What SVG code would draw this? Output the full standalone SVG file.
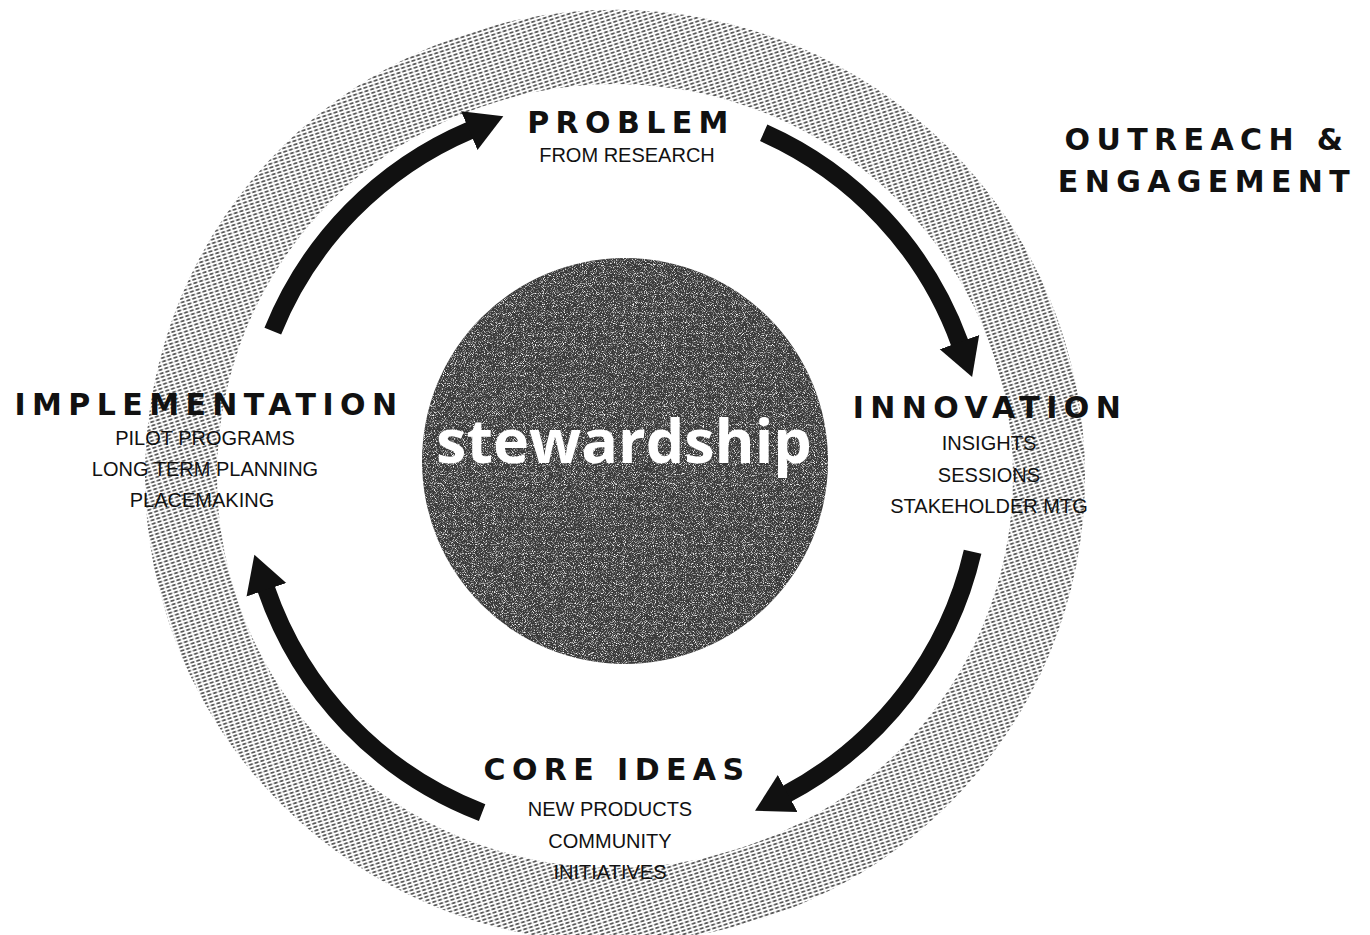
<svg xmlns="http://www.w3.org/2000/svg" width="1370" height="935" viewBox="0 0 1370 935">
  <defs>
    <style>
      .head { font-family: "DejaVu Sans", "Liberation Sans", sans-serif; font-weight: 700; font-size: 30px; letter-spacing: 6.4px; fill: #111; text-anchor: middle; }
      .sub { font-family: "Liberation Sans", Arial, sans-serif; font-size: 20px; fill: #111; text-anchor: middle; }
      .hub-label { font-family: "Open Sans", "Liberation Sans", sans-serif; font-weight: 700; font-size: 61px; fill: #fff; text-anchor: middle; }
      .flow { fill: none; stroke: #111; stroke-width: 18; stroke-linecap: butt; marker-end: url(#head); }
    </style>
    <!-- short dashes that give the outer band its hatched grey look -->
    <pattern id="hatch" width="6" height="3.6" patternUnits="userSpaceOnUse" patternTransform="rotate(-18)">
      <rect width="6" height="3.6" fill="#fff"/>
      <path d="M0.4 1.8h4" stroke="#1a1a1a" stroke-width="1.3"/>
    </pattern>
    <!-- white speckle noise for the central disc -->
    <filter id="grain" x="0" y="0" width="100%" height="100%">
      <feTurbulence type="fractalNoise" baseFrequency="1.1" numOctaves="1" seed="7" result="n"/>
      <feColorMatrix in="n" type="matrix" values="0 0 0 0 1  0 0 0 0 1  0 0 0 0 1  4 0 0 0 -2.0" result="w"/>
      <feComposite in="w" in2="SourceGraphic" operator="in"/>
    </filter>
    <marker id="head" markerUnits="userSpaceOnUse" markerWidth="42" markerHeight="46" viewBox="0 -23 42 46" refX="1" refY="0" orient="auto">
      <path d="M0,-21 L37,0 L0,21 Z" fill="#111"/>
    </marker>
  </defs>

  <rect width="1370" height="935" fill="#fff"/>

  <!-- outer band: outreach & engagement -->
  <g id="outreach-ring">
    <path fill="url(#hatch)" fill-rule="evenodd"
          d="M145 476a470 466 0 1 0 940 0a470 466 0 1 0 -940 0Z M217 476a398 392 0 1 0 796 0a398 392 0 1 0 -796 0Z"/>
  </g>

  <!-- central hub -->
  <g id="stewardship">
    <circle cx="625" cy="461" r="203" fill="#3a3a3a"/>
    <circle cx="625" cy="461" r="203" fill="#fff" filter="url(#grain)"/>
    <text class="hub-label" x="624" y="463">stewardship</text>
  </g>

  <!-- cycle arrows -->
  <g id="connectors">
    <path class="flow" d="M272.8 331.1A368 368 0 0 1 470.2 130.2"/>
    <path class="flow" d="M763.7 132.8A368 368 0 0 1 959.8 343.1"/>
    <path class="flow" d="M972.6 551.8A368 368 0 0 1 786.8 793.9"/>
    <path class="flow" d="M482.1 812.6A368 368 0 0 1 266.1 588.8"/>
  </g>

  <g id="problem">
    <text class="head" x="631" y="133">PROBLEM</text>
    <text class="sub" x="627" y="162">FROM RESEARCH</text>
  </g>

  <g id="innovation">
    <text class="head" x="990" y="418">INNOVATION</text>
    <text class="sub" x="989" y="450">INSIGHTS</text>
    <text class="sub" x="989" y="482">SESSIONS</text>
    <text class="sub" x="989" y="513">STAKEHOLDER MTG</text>
  </g>

  <g id="core-ideas">
    <text class="head" x="617" y="780">CORE IDEAS</text>
    <text class="sub" x="610" y="816">NEW PRODUCTS</text>
    <text class="sub" x="610" y="848">COMMUNITY</text>
    <text class="sub" x="610" y="879">INITIATIVES</text>
  </g>

  <g id="implementation">
    <text class="head" x="209" y="415">IMPLEMENTATION</text>
    <text class="sub" x="205" y="445">PILOT PROGRAMS</text>
    <text class="sub" x="205" y="476">LONG TERM PLANNING</text>
    <text class="sub" x="202" y="507">PLACEMAKING</text>
  </g>

  <g id="outreach-label">
    <text class="head" x="1207" y="150">OUTREACH &amp;</text>
    <text class="head" x="1207" y="192">ENGAGEMENT</text>
  </g>
</svg>
